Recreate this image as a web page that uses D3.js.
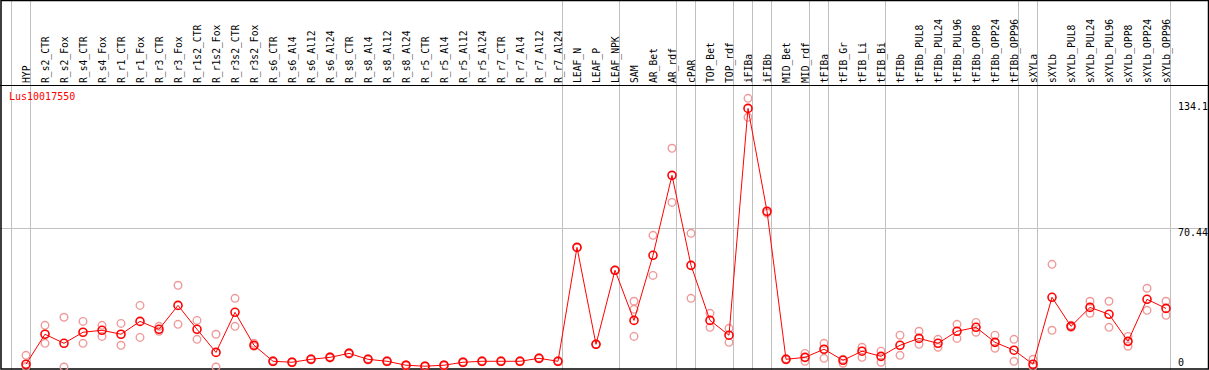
<!DOCTYPE html>
<html>
<head>
<meta charset="utf-8">
<script src="https://cdn.jsdelivr.net/npm/d3@7"></script>
<style>
  body { margin: 0; background: #fff; }
  text { font-family: "DejaVu Sans Mono", monospace; font-size: 10px; }
  .sample { font-size: 9.7px; }
</style>
</head>
<body>
<div id="chart"></div>
<script>
const samples = ["HYP", "R_s2_CTR", "R_s2_Fox", "R_s4_CTR", "R_s4_Fox", "R_r1_CTR", "R_r1_Fox",
  "R_r3_CTR", "R_r3_Fox", "R_r1s2_CTR", "R_r1s2_Fox", "R_r3s2_CTR", "R_r3s2_Fox",
  "R_s6_CTR", "R_s6_Al4", "R_s6_Al12", "R_s6_Al24", "R_s8_CTR", "R_s8_Al4", "R_s8_Al12", "R_s8_Al24",
  "R_r5_CTR", "R_r5_Al4", "R_r5_Al12", "R_r5_Al24", "R_r7_CTR", "R_r7_Al4", "R_r7_Al12", "R_r7_Al24",
  "LEAF_N", "LEAF_P", "LEAF_NPK", "SAM", "AR_Bet", "AR_rdf", "cPAR", "TOP_Bet", "TOP_rdf",
  "iFIBa", "iFIBb", "MID_Bet", "MID_rdf", "tFIBa", "tFIB_Gr", "tFIB_Li", "tFIB_Bi", "tFIBb",
  "tFIBb_PUL8", "tFIBb_PUL24", "tFIBb_PUL96", "tFIBb_OPP8", "tFIBb_OPP24", "tFIBb_OPP96",
  "sXYLa", "sXYLb", "sXYLb_PUL8", "sXYLb_PUL24", "sXYLb_PUL96", "sXYLb_OPP8", "sXYLb_OPP24", "sXYLb_OPP96"];

// mean expression per sample
const means = [1.4, 16.6, 12.0, 17.6, 18.6, 16.6, 23.1, 19.1, 31.2, 19.1, 7.4, 27.7, 11.0,
  2.9, 2.4, 3.9, 4.9, 6.9, 3.9, 2.9, 0.9, 0.4, 0.9, 2.4, 2.9, 2.9, 2.9, 4.4, 2.9,
  60.6, 11.5, 49.0, 23.6, 56.6, 97.1, 51.5, 23.6, 16.1, 131.0, 78.9, 3.9, 4.9,
  9.0, 3.4, 8.0, 5.4, 11.0, 14.5, 12.0, 18.1, 20.1, 12.5, 8.5,
  1.4, 35.3, 20.6, 30.2, 26.7, 13.0, 34.3, 29.7];

// replicate values (two per sample, a third where visible)
const rep1 = [5.9, 21.1, 25.2, 23.1, 21.1, 22.1, 31.2, 20.6, 41.4, 23.6, 16.6, 34.8, 12.0,
  3.2, 2.6, 4.2, 5.2, 7.2, 4.2, 3.2, 1.2, 0.6, 1.2, 2.7, 3.2, 3.2, 3.2, 4.7, 3.2,
  60.6, 11.5, 49.0, 33.3, 66.7, 110.8, 67.7, 27.2, 19.6, 136.1, 78.3, 4.2, 6.9,
  12.0, 3.9, 10.0, 8.0, 16.1, 18.1, 14.0, 21.6, 22.6, 16.1, 14.0,
  3.9, 52.0, 21.1, 33.3, 33.3, 15.5, 39.9, 33.3];
const rep2 = [0.2, 12.0, 0, 12.0, 15.5, 11.0, 15.0, 18.1, 21.6, 14.0, 0, 20.6, 10.5,
  2.6, 2.2, 3.6, 4.6, 6.6, 3.6, 2.6, 0.6, 0.2, 0.6, 2.1, 2.6, 2.6, 2.6, 4.1, 2.6,
  60.6, 11.5, 49.0, 15.5, 46.4, 83.4, 34.8, 20.1, 12.5, 126.5, 78.0, 3.6, 2.9,
  4.4, 1.9, 4.9, 2.4, 5.9, 11.5, 10.0, 14.5, 17.6, 9.5, 2.9,
  0.2, 18.6, 20.1, 27.2, 20.1, 10.5, 28.7, 26.2];
const rep3 = [null, null, null, null, null, null, null, null, null, null, null, null, null,
  null, null, null, null, null, null, null, null, null, null, null, null, null, null, null, null,
  null, null, null, 29.2, null, null, null, null, null, null, null, null, null,
  null, null, null, null, null, null, null, null, null, null, null,
  null, null, null, null, null, null, null, null];

// group boundaries (index of first sample in each group)
const groupStarts = [0, 1, 29, 32, 35, 36, 38, 39, 40, 42, 43, 46, 53, 54, 61];
const yTicks = [0, 70.44, 134.1];
const geneName = "Lus10017550";

const width = 1209, height = 370;
const step = 19, left = 11, headerBottom = 85;

const svg = d3.select("#chart").append("svg")
  .attr("width", width).attr("height", height);

const xEdge = d3.scaleLinear().domain([0, samples.length]).range([left, left + step * samples.length]);
const x = i => xEdge(i) + 15;
const y = d3.scaleLinear().domain([0, 134.1]).range([367, 102.3]);

// vertical group lines
svg.append("g").selectAll("line")
  .data(groupStarts)
  .enter().append("line")
  .attr("x1", d => Math.round(xEdge(d)) + 0.5).attr("x2", d => Math.round(xEdge(d)) + 0.5)
  .attr("y1", 0).attr("y2", height)
  .attr("stroke", "#c0c0c0");

// horizontal grid at 70.44
svg.append("line")
  .attr("x1", 0).attr("x2", width)
  .attr("y1", Math.round(y(70.44)) + 0.5).attr("y2", Math.round(y(70.44)) + 0.5)
  .attr("stroke", "#c0c0c0");

// sample labels
svg.append("g").selectAll("text")
  .data(samples)
  .enter().append("text")
  .attr("class", "sample")
  .attr("transform", (d, i) => `translate(${x(i) + 3.5},83) rotate(-90)`)
  .attr("fill", "#000")
  .text(d => d);

// header separator + border
svg.append("line")
  .attr("x1", 0).attr("x2", width).attr("y1", headerBottom + 0.5).attr("y2", headerBottom + 0.5)
  .attr("stroke", "#000");
svg.append("rect")
  .attr("x", 1).attr("y", 0.5).attr("width", width - 1.5).attr("height", height - 1.5)
  .attr("fill", "none").attr("stroke", "#000").attr("stroke-width", 1.5);

// y labels
svg.append("g").selectAll("text")
  .data(yTicks)
  .enter().append("text")
  .attr("x", 1178)
  .attr("y", d => d === 0 ? 366 : y(d) + 8)
  .attr("fill", "#000")
  .text(d => d);

// replicates
const reps = [];
[rep1, rep2, rep3].forEach(r => r.forEach((v, i) => { if (v !== null) reps.push({ i, v }); }));
svg.append("g").selectAll("circle")
  .data(reps)
  .enter().append("circle")
  .attr("cx", d => x(d.i))
  .attr("cy", d => Math.min(y(d.v), 368))
  .attr("r", 3.8)
  .attr("fill", "none")
  .attr("stroke", "#ef9a9a")
  .attr("stroke-width", 1.4);

// mean line
svg.append("path")
  .datum(means)
  .attr("d", d3.line().x((d, i) => x(i)).y(d => y(d)))
  .attr("fill", "none")
  .attr("stroke", "#ff0000")
  .attr("stroke-width", 1);

svg.append("g").selectAll("circle")
  .data(means)
  .enter().append("circle")
  .attr("cx", (d, i) => x(i))
  .attr("cy", d => y(d))
  .attr("r", 4)
  .attr("fill", "none")
  .attr("stroke", "#ff0000")
  .attr("stroke-width", 1.6);

svg.append("text")
  .attr("x", 9).attr("y", 100)
  .attr("fill", "#ff0000")
  .text(geneName);
</script>
</body>
</html>
